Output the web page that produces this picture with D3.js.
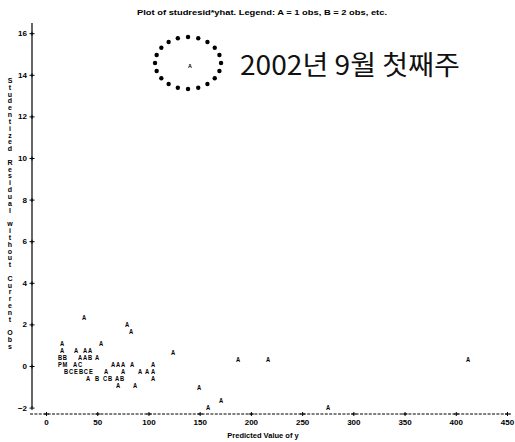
<!DOCTYPE html>
<html>
<head>
<meta charset="utf-8">
<script src="https://cdn.jsdelivr.net/npm/d3@7"></script>
<style>
  html, body { margin: 0; padding: 0; background: #fff; }
  svg { display: block; }
  .lbl { font-family: "Liberation Sans", Arial, sans-serif; font-weight: bold; fill: #000; }
</style>
</head>
<body>
<svg id="chart" width="515" height="442"></svg>
<script>
// Studentized residual (without current obs) vs predicted value.
// Each glyph is one plotted position; its letter gives the obs count (A = 1, B = 2, ...).
const predicted = [
  15.6, 53.7,
  15.6, 29.3, 38.1, 43.0,
  13.7, 18.5, 33.2, 38.1, 43.0, 49.8,
  13.7, 18.5, 28.3, 33.2, 65.4, 70.3, 75.2, 84.0, 104.5,
  19.5, 24.4, 29.3, 34.2, 39.0, 43.9, 58.6, 75.2, 91.8, 98.6, 104.5,
  41.0, 49.8, 57.6, 62.5, 69.3, 74.2, 104.5,
  70.3, 86.9,
  37.1, 79.1, 83.0, 124.0, 187.4, 216.7, 412.0, 149.4, 170.8, 158.1, 275.3,
  140.6
];
const studresid = [
  1.11, 1.11,
  0.77, 0.77, 0.77, 0.77,
  0.43, 0.43, 0.43, 0.43, 0.43, 0.43,
  0.10, 0.10, 0.10, 0.10, 0.10, 0.10, 0.10, 0.10, 0.10,
  -0.24, -0.24, -0.24, -0.24, -0.24, -0.24, -0.24, -0.24, -0.24, -0.24, -0.24,
  -0.58, -0.58, -0.58, -0.58, -0.58, -0.58, -0.58,
  -0.91, -0.91,
  2.36, 2.02, 1.68, 0.67, 0.34, 0.34, 0.34, -1.01, -1.63, -1.99, -1.99,
  14.47
];
const symbols = [
  "A", "A",
  "A", "A", "A", "A",
  "B", "B", "A", "A", "B", "A",
  "P", "M", "A", "C", "A", "A", "A", "A", "A",
  "B", "C", "E", "B", "C", "E", "A", "A", "A", "A", "A",
  "A", "B", "C", "B", "A", "B", "A",
  "A", "A",
  "A", "A", "A", "A", "A", "A", "A", "A", "A", "A", "A",
  "A"
];
const xTicks = [0, 50, 100, 150, 200, 250, 300, 350, 400, 450];
const yTicks = [-2, 0, 2, 4, 6, 8, 10, 12, 14, 16];

const titleText = "Plot of studresid*yhat.  Legend: A = 1 obs, B = 2 obs, etc.";
const xTitle = "Predicted Value of y";
const yTitle = "Studentized Residual without Current Obs";
const noteText = "2002년 9월 첫째주";

const svg = d3.select("#chart");

const x = d3.scaleLinear().domain([0, 450]).range([46, 507]);
const y = d3.scaleLinear().domain([-2, 16]).range([407.6, 33.2]);

// Title
svg.append("text").attr("class", "lbl")
  .attr("x", 137).attr("y", 15)
  .attr("font-size", 7).attr("textLength", 250).attr("lengthAdjust", "spacingAndGlyphs")
  .text(titleText);

// Vertical axis: solid rule with "+" tick marks
const yAxisX = 32;
svg.append("line")
  .attr("x1", yAxisX).attr("x2", yAxisX)
  .attr("y1", 23).attr("y2", y(-2))
  .attr("stroke", "#000").attr("stroke-width", 1.2);

const yAxis = d3.axisLeft(y).tickValues(yTicks).tickSize(0).tickPadding(5).tickFormat(d3.format("d"));
const gy = svg.append("g").attr("transform", `translate(${yAxisX},0)`).call(yAxis);
gy.select(".domain").remove();
gy.selectAll(".tick text").attr("class", "lbl").attr("font-size", 8).attr("font-family", null);
gy.selectAll(".tick").append("path")
  .attr("d", "M-2.5,0H2.5M0,-2V2")
  .attr("stroke", "#000").attr("stroke-width", 1);

// Horizontal axis: dashed rule with "+" tick marks
const xAxisY = 414;
svg.append("line")
  .attr("x1", 30).attr("x2", 511)
  .attr("y1", xAxisY).attr("y2", xAxisY)
  .attr("stroke", "#000").attr("stroke-width", 1)
  .attr("stroke-dasharray", "3,1.4");

const xAxis = d3.axisBottom(x).tickValues(xTicks).tickSize(0).tickPadding(5).tickFormat(d3.format("d"));
const gx = svg.append("g").attr("transform", `translate(0,${xAxisY})`).call(xAxis);
gx.select(".domain").remove();
gx.selectAll(".tick text").attr("class", "lbl").attr("font-size", 8).attr("font-family", null);
gx.selectAll(".tick").append("path")
  .attr("d", "M-2.5,0H2.5M0,-2V2")
  .attr("stroke", "#000").attr("stroke-width", 1);

// Axis titles
svg.append("text").attr("class", "lbl")
  .attr("x", 263).attr("y", 438).attr("text-anchor", "middle")
  .attr("font-size", 7.5)
  .text(xTitle);

const yChars = Array.from(yTitle);
svg.append("g").selectAll("text")
  .data(yChars)
  .join("text")
  .attr("class", "lbl")
  .attr("x", 10)
  .attr("y", (d, i) => 83 + i * 6.82)
  .attr("text-anchor", "middle")
  .attr("font-size", 7)
  .text(d => d);

// Plotted symbols: narrow, line-printer style letters
const pts = predicted.map((p, i) => ({ p, r: studresid[i], s: symbols[i] }));
svg.append("g").selectAll("text")
  .data(pts)
  .join("text")
  .attr("class", "lbl")
  .attr("transform", d => `translate(${x(d.p)},${y(d.r) + 3}) scale(${d.r > 10 ? 0.9 : 0.72},1)`)
  .attr("text-anchor", "middle")
  .attr("font-size", d => d.r > 10 ? 6 : 8)
  .attr("font-weight", d => d.r > 10 ? "normal" : "bold")
  .text(d => d.s);

// Dotted ring around the outlying week, with its annotation
const outlier = pts[pts.length - 1];
const cx = x(outlier.p) - 2, cy = y(outlier.r) - 2;
svg.append("g").selectAll("circle")
  .data(d3.range(20))
  .join("circle")
  .attr("cx", k => cx + 33 * Math.cos(2 * Math.PI * k / 20))
  .attr("cy", k => cy + 26 * Math.sin(2 * Math.PI * k / 20))
  .attr("r", 2.2)
  .attr("fill", "#000");

svg.append("text")
  .attr("x", 240).attr("y", 75)
  .attr("font-family", "'Noto Sans CJK KR', sans-serif")
  .attr("font-size", 27)
  .attr("textLength", 220).attr("lengthAdjust", "spacingAndGlyphs")
  .attr("fill", "#111")
  .text(noteText);
</script>
</body>
</html>
